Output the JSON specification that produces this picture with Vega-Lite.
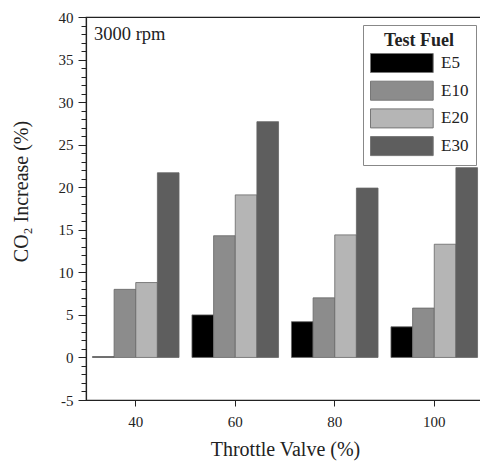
{
  "$schema": "https://vega.github.io/schema/vega-lite/v6.json",
  "autosize": "none",
  "padding": {"left": 86, "top": 17, "right": 0, "bottom": 62},
  "width": 398,
  "height": 383,
  "background": "white",
  "config": {
    "view": {"stroke": "#222", "strokeWidth": 1.2},
    "font": "Liberation Serif"
  },
  "title": {
    "text": "3000 rpm",
    "anchor": "start",
    "orient": "top",
    "frame": "group",
    "offset": -33,
    "dx": 8,
    "font": "Liberation Serif",
    "fontSize": 18.5,
    "fontWeight": "normal",
    "color": "#222"
  },
  "data": {
    "values": [
      {"throttle": "40", "fuel": "E5", "co2": 0.1},
      {"throttle": "40", "fuel": "E10", "co2": 8.0},
      {"throttle": "40", "fuel": "E20", "co2": 8.8},
      {"throttle": "40", "fuel": "E30", "co2": 21.7},
      {"throttle": "60", "fuel": "E5", "co2": 5.0},
      {"throttle": "60", "fuel": "E10", "co2": 14.3},
      {"throttle": "60", "fuel": "E20", "co2": 19.1},
      {"throttle": "60", "fuel": "E30", "co2": 27.7},
      {"throttle": "80", "fuel": "E5", "co2": 4.2},
      {"throttle": "80", "fuel": "E10", "co2": 7.0},
      {"throttle": "80", "fuel": "E20", "co2": 14.4},
      {"throttle": "80", "fuel": "E30", "co2": 19.9},
      {"throttle": "100", "fuel": "E5", "co2": 3.6},
      {"throttle": "100", "fuel": "E10", "co2": 5.8},
      {"throttle": "100", "fuel": "E20", "co2": 13.3},
      {"throttle": "100", "fuel": "E30", "co2": 22.3}
    ]
  },
  "layer": [
    {
      "mark": {"type": "bar", "stroke": "#666", "strokeWidth": 0.8},
      "encoding": {
        "x": {
          "field": "throttle",
          "type": "nominal",
          "sort": ["40", "60", "80", "100"],
          "scale": {"paddingInner": 0.13, "paddingOuter": 0.065},
          "axis": {
            "title": "Throttle Valve (%)",
            "titleFont": "Liberation Serif",
            "titleFontSize": 20,
            "titleFontWeight": "normal",
            "titleColor": "#222",
            "titlePadding": 10,
            "labelAngle": 0,
            "labelFont": "Liberation Serif",
            "labelFontSize": 15,
            "labelColor": "#222",
            "labelPadding": 8,
            "tickSize": 6,
            "tickColor": "#222",
            "domainColor": "#222",
            "domainWidth": 1.2
          }
        },
        "xOffset": {
          "field": "fuel",
          "type": "nominal",
          "sort": ["E5", "E10", "E20", "E30"],
          "scale": {"paddingInner": 0, "paddingOuter": 0}
        },
        "y": {
          "field": "co2",
          "type": "quantitative",
          "scale": {"domain": [-5, 40], "nice": false, "zero": false},
          "axis": {
            "title": "CO₂ Increase (%)",
            "titleFont": "Liberation Serif",
            "titleFontSize": 20,
            "titleFontWeight": "normal",
            "titleColor": "#222",
            "titlePadding": 27,
            "titleY": 174,
            "values": [-5, 0, 5, 10, 15, 20, 25, 30, 35, 40],
            "labelExpr": "replace(datum.label, '−', '-')",
            "grid": false,
            "labelFont": "Liberation Serif",
            "labelFontSize": 15,
            "labelColor": "#222",
            "labelPadding": 5,
            "tickSize": 8,
            "tickColor": "#222",
            "domainColor": "#222",
            "domainWidth": 1.2
          }
        },
        "color": {
          "field": "fuel",
          "type": "nominal",
          "sort": ["E5", "E10", "E20", "E30"],
          "scale": {
            "domain": ["E5", "E10", "E20", "E30"],
            "range": ["#000000", "#8c8c8c", "#b5b5b5", "#5e5e5e"]
          },
          "legend": {
            "title": "Test Fuel",
            "orient": "top-right",
            "offset": 8,
            "padding": 7,
            "strokeColor": "#888",
            "fillColor": "white",
            "titleFont": "Liberation Serif",
            "titleFontSize": 18,
            "titleFontWeight": "bold",
            "titleColor": "#222",
            "titleAnchor": "middle",
            "titlePadding": 3,
            "labelFont": "Liberation Serif",
            "labelFontSize": 17,
            "labelColor": "#222",
            "labelOffset": 51,
            "symbolType": "M-1,-1H5.6V1H-1Z",
            "symbolSize": 361,
            "symbolStrokeColor": "#777",
            "symbolStrokeWidth": 1,
            "symbolOpacity": 1,
            "rowPadding": 3.7
          }
        }
      }
    },
    {
      "mark": {"type": "tick", "opacity": 0},
      "data": {"values": [{"m": -4}]},
      "encoding": {
        "y": {
          "field": "m",
          "type": "quantitative",
          "axis": {
            "orient": "left",
            "title": null,
            "labels": false,
            "domain": false,
            "grid": false,
            "values": [-4, -3, -2, -1, 1, 2, 3, 4, 6, 7, 8, 9, 11, 12, 13, 14, 16, 17, 18, 19, 21, 22, 23, 24, 26, 27, 28, 29, 31, 32, 33, 34, 36, 37, 38, 39],
            "tickSize": 5,
            "tickColor": "#222"
          }
        }
      }
    }
  ],
  "resolve": {"axis": {"y": "independent"}}
}
